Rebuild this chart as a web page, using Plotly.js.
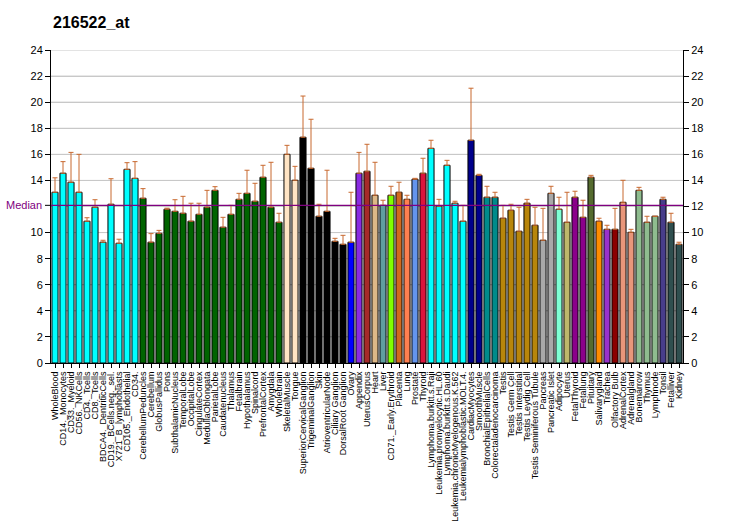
<!DOCTYPE html>
<html><head><meta charset="utf-8">
<script src="https://cdn.plot.ly/plotly-3.0.1.min.js"></script>
<style>html,body{margin:0;padding:0;background:#fff}#chart{width:732px;height:530px}</style>
</head><body><div id="chart"></div>
<script>
var categories = ["WholeBlood","CD14._Monocytes","CD33._Myeloid","CD56._NKCells","CD4._Tcells","CD8._Tcells","BDCA4._DentriticCells","CD19._BCells.neg._sel.","X721_B_lymphoblasts","CD105._Endothelial","CD34.",
"CerebellumPeduncles","Cerebellum","GlobusPallidus","Pons","SubthalamicNucleus","TemporalLobe","OccipitalLobe","CingulateCortex","MedullaOblongata","ParietalLobe","Caudatenucleus","Thalamus","Fetalbrain","Hypothalamus","Spinalcord","PrefrontalCortex","Amygdala","Wholebrain",
"SkeletalMuscle","Tongue","SuperiorCervicalGanglion","TrigeminalGanglion","Skin","AtrioventricularNode","Ciliary Ganglion","DorsalRoot Ganglion","Ovary","Appendix","UterusCorpus","Heart","Liver","CD71._Early.Erythroid","Placenta","Lung","Prostate","Thyroid",
"Lymphoma.burkitt.s.Raji","Leukemia.promyelocytic.HL.60","Lymphoma.burkitt.s.Daudi","Leukemia.chronicMyelogenous.K.562","Leukemialymphoblastic.MOLT.4.","CardiacMyocytes","SmoothMuscle","BronchialEpithelialCells","Colorectaladenocarcinoma",
"Testis","Testis Germ Cell","Testis Interstitial","Testis Leydig Cell","Testis Seminiferous Tubule","Pancreas","Pancreatic Islet","Adipocyte","Uterus","FetalThyroid","Fetallung","Pituitary","Salivarygland","Trachea","Olfactory Bulb","AdrenalCortex","Adrenalgland","Bonemarrow","Thymus","Lymphnode","Tonsil","Fetalliver","Kidney"];

var values = [13.09,14.55,13.86,13.09,10.87,11.94,9.26,12.17,9.18,14.85,14.16,
12.63,9.26,9.94,11.79,11.63,11.48,10.87,11.40,11.94,13.24,10.41,11.40,12.55,13.01,12.40,14.24,11.94,10.79,
16.00,14.01,17.31,14.93,11.25,11.63,9.33,9.10,9.26,14.55,14.70,12.86,12.09,12.86,13.09,12.55,14.09,14.55,
16.46,12.02,15.16,12.25,10.87,17.08,14.39,12.71,12.71,
11.10,11.71,10.10,12.25,10.56,9.41,13.01,11.79,10.79,12.71,11.17,14.24,10.87,10.25,10.25,12.32,10.02,13.24,10.79,11.25,12.55,10.79,9.10];

var errorTops = [14.20,15.44,16.15,16.00,11.14,12.52,9.41,14.13,9.49,15.36,15.44,
13.37,9.92,10.17,11.87,12.52,12.78,12.25,12.25,13.24,13.52,11.17,12.09,13.01,14.78,13.78,15.16,15.39,11.48,
16.69,15.08,20.47,18.69,12.17,14.78,9.56,9.79,13.09,16.15,16.77,15.39,12.48,13.55,13.86,12.86,14.16,15.70,
17.08,12.55,15.54,12.40,12.09,21.07,14.47,13.55,13.09,
12.09,12.17,11.94,12.55,11.94,11.86,13.55,12.71,13.09,13.17,12.48,14.39,11.10,10.56,11.86,14.01,10.25,13.47,11.25,11.25,12.71,11.48,9.26];

var barColors = ["#00FFFF","#00FFFF","#00FFFF","#00FFFF","#00FFFF","#00FFFF","#00FFFF","#00FFFF","#00FFFF","#00FFFF","#00FFFF",
"#006400","#006400","#006400","#006400","#006400","#006400","#006400","#006400","#006400","#006400","#006400","#006400","#006400","#006400","#006400","#006400","#006400","#006400",
"#FFE4C4","#FFE4C4","#000000","#000000","#000000","#000000","#000000","#000000","#0000FF","#8A2BE2","#A52A2A","#DEB887","#5F9EA0","#7FFF00","#D2691E","#FF7F50","#6495ED","#DC143C",
"#00FFFF","#00FFFF","#00FFFF","#00FFFF","#00FFFF","#00008B","#00008B","#008B8B","#008B8B",
"#B8860B","#B8860B","#B8860B","#B8860B","#B8860B","#A9A9A9","#A9A9A9","#7FFFD4","#BDB76B","#8B008B","#8B008B","#556B2F","#FF8C00","#9932CC","#8B0000","#E9967A","#E9967A","#8FBC8F","#8FBC8F","#8FBC8F","#483D8B","#2F4F4F","#2F4F4F"];

var medianValue = 12.09;
var yTicks = [0,2,4,6,8,10,12,14,16,18,20,22,24];
var leftTicks = [0,2,4,6,8,10,14,16,18,20,22,24];

var errPlus = values.map(function(v,i){return Math.max(0, errorTops[i]-v);});

var traces = [{
  type:'bar', x:categories, y:values,
  marker:{color:barColors, line:{color:'#000000', width:1}},
  error_y:{type:'data', symmetric:false, array:errPlus, arrayminus:values.map(function(){return 0;}), color:'#C8692F', thickness:1, width:2.5},
  hoverinfo:'x+y'
},{
  type:'scatter', x:[categories[0]], y:[0], yaxis:'y2', mode:'markers', marker:{opacity:0}, showlegend:false, hoverinfo:'skip'
}];

var gridShapes = yTicks.filter(function(t){return t>0;}).map(function(t){
  return {type:'line', xref:'paper', yref:'y', x0:0, x1:1, y0:t, y1:t, line:{color:'#C8C8C8', width:1}, layer:'below'};
});

var layout = {
  width:732, height:530,
  margin:{l:51, r:49, t:50, b:167, pad:0},
  paper_bgcolor:'#ffffff', plot_bgcolor:'rgba(0,0,0,0)',
  showlegend:false, bargap:0.24,
  font:{family:'Liberation Sans, Arial, sans-serif', color:'#000000', size:11},
  title:{text:'<b>216522_at</b>', x:53/732, xref:'container', xanchor:'left', y:1-22/530, yref:'container', yanchor:'middle', font:{size:16, family:'Liberation Sans, Arial, sans-serif', color:'#000000'}},
  xaxis:{type:'category', dtick:1, tickangle:-90, tickfont:{size:9}, ticks:'outside', ticklen:4, tickcolor:'#000', showline:true, linecolor:'#000', linewidth:1, showgrid:false, zeroline:false, automargin:false, range:[-0.5, categories.length-0.5]},
  yaxis:{range:[0,24], tickmode:'array', tickvals:leftTicks, ticks:'outside', ticklen:5, tickcolor:'#000', showline:true, linecolor:'#000', linewidth:1, showgrid:true, gridcolor:'#C8C8C8', gridwidth:1, zeroline:false, tickfont:{size:11}, automargin:false},
  yaxis2:{range:[0,24], tickmode:'array', tickvals:yTicks, overlaying:'y', side:'right', ticks:'outside', ticklen:5, tickcolor:'#000', showline:true, linecolor:'#000', linewidth:1, showgrid:false, zeroline:false, tickfont:{size:11}, automargin:false},
  shapes:gridShapes.concat([
    {type:'line', xref:'paper', yref:'y', x0:0, x1:1, y0:medianValue, y1:medianValue, line:{color:'#800080', width:1.2}, layer:'above'},
    {type:'line', xref:'paper', yref:'y', x0:-6/632, x1:0, y0:medianValue, y1:medianValue, line:{color:'#000000', width:1}}
  ]),
  annotations:[
    {xref:'paper', yref:'y', x:-7/632, y:medianValue, text:'Median', showarrow:false, xanchor:'right', yanchor:'middle', font:{size:11, color:'#800080'}}
  ]
};

Plotly.newPlot('chart', traces, layout, {displayModeBar:false, staticPlot:true});
</script></body></html>
